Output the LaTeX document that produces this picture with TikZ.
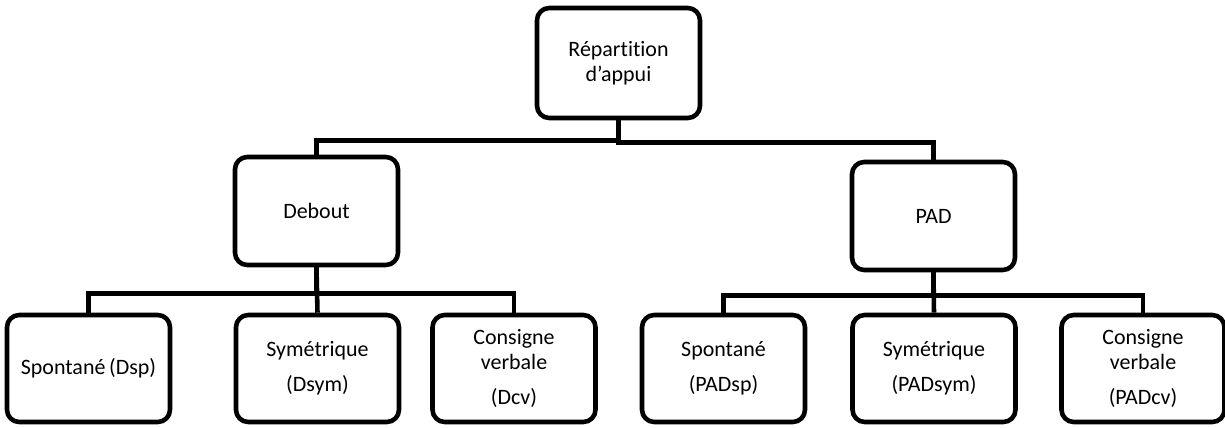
\documentclass[tikz,border=0pt]{standalone}
\usepackage{fontspec}
\setmainfont[Ligatures=NoCommon]{Carlito}
\usetikzlibrary{positioning,calc}

\begin{document}
\begin{tikzpicture}[
    box/.style={draw, line width=2.6pt, rounded corners=7pt, fill=white, align=center,
      minimum width=3.26cm, minimum height=2.16cm, inner sep=2pt,
      font=\fontsize{12.5}{14}\selectfont},
    link/.style={draw, line width=2.6pt}
  ]
  \useasboundingbox (0,0) rectangle (24.5,8.54);

  % Top level
  \node[box, minimum height=2.2cm] (root) at (12.37, 7.28) {Répartition\\d’appui};

  % Second level
  \node[box] (debout) at (6.33, 4.32) {Debout};
  \node[box] (pad) at (18.67, 4.22) {PAD};

  % Bottom level, Debout
  \node[box, minimum height=2.14cm] (dsp) at (1.77, 1.17) {Spontané\,(Dsp)};
  \node[box, minimum height=2.14cm] (dsym) at (6.35, 1.17) {Symétrique\\[6pt](Dsym)};
  \node[box, minimum height=2.14cm] (dcv) at (10.28, 1.17) {Consigne\\verbale\\[6pt](Dcv)};

  % Bottom level, PAD
  \node[box, minimum height=2.14cm] (padsp) at (14.47, 1.17) {Spontané\\[6pt](PADsp)};
  \node[box, minimum height=2.14cm] (padsym) at (18.68, 1.17) {Symétrique\\[6pt](PADsym)};
  \node[box, minimum height=2.14cm] (padcv) at (22.86, 1.17) {Consigne\\verbale\\[6pt](PADcv)};

  % Connectors
  \draw[link] (root.south) -- ++(0,-0.40) -| (debout.north);
  \draw[link] (root.south) -- ++(0,-0.45) -| (pad.north);
  \draw[link] (debout.south) -- ++(0,-0.52) -| (dsp.north);
  \draw[link] (debout.south) -- (dsym.north);
  \draw[link] (debout.south) -- ++(0,-0.52) -| (dcv.north);
  \draw[link] (pad.south) -- ++(0,-0.46) -| (padsp.north);
  \draw[link] (pad.south) -- (padsym.north);
  \draw[link] (pad.south) -- ++(0,-0.46) -| (padcv.north);
\end{tikzpicture}
\end{document}
